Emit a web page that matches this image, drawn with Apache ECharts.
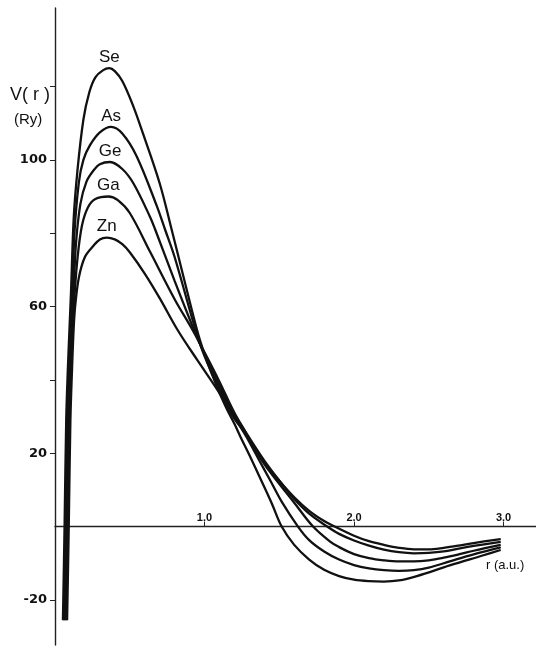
<!DOCTYPE html>
<html>
<head>
<meta charset="utf-8">
<script src="https://cdn.jsdelivr.net/npm/echarts@6/dist/echarts.min.js"></script>
<style>
  html, body { margin: 0; padding: 0; background: #fff; }
  #chart { width: 536px; height: 647px; }
</style>
</head>
<body>
<div id="chart"></div>
<script>
// r in a.u., V(r) in Ry
const rSe = [0.053,0.064,0.075,0.086,0.098,0.108,0.125,0.15,0.19,0.23,0.27,0.32,0.363,0.40,0.45,0.52,0.59,0.70,0.78,0.86,0.95,1.0,1.05,1.1,1.15,1.2,1.24,1.3,1.378,1.45,1.516,1.6,1.7,1.8,1.9,2.0,2.1,2.2,2.3,2.42,2.64,2.86,2.98]
const vSe = [-25.5,0,29,43,55,65,84,97,111,118.5,122.5,124.4,125,124.2,121.5,115,107,93.6,81,68,53.6,47,41.5,36.5,32,28,24.5,19.5,12.7,6.3,0,-5,-9,-11.8,-13.5,-14.5,-14.9,-15,-14.7,-13.5,-10.6,-7.9,-6.4]

const rAs = [0.060,0.071,0.082,0.093,0.105,0.115,0.13,0.16,0.19,0.234,0.30,0.375,0.45,0.546,0.68,0.736,0.80,0.94,1.0,1.1,1.2,1.28,1.36,1.438,1.52,1.625,1.7,1.8,1.9,2.0,2.1,2.2,2.3,2.4,2.5,2.64,2.8,2.98]
const vAs = [-25.5,0,29,43,55,63,80,94,100,104,107.5,109,107.2,101,87.5,81,73.5,53.6,46.5,37.5,30,24.5,18.5,12.7,6.5,0,-3.7,-6.8,-9,-10.5,-11.4,-11.9,-12.1,-11.9,-11.2,-9.5,-7.6,-5.7]

const rGe = [0.067,0.078,0.089,0.100,0.112,0.122,0.14,0.17,0.21,0.256,0.30,0.368,0.45,0.524,0.635,0.67,0.80,0.93,1.0,1.1,1.2,1.28,1.4,1.48,1.6,1.726,1.84,1.9,2.0,2.1,2.2,2.3,2.4,2.5,2.6,2.7,2.8,2.98]
const vGe = [-25.5,0,29,43,55,62,77,88,94,97,98.8,99.4,97.5,93.6,84.5,81,67,53.6,47,38.5,30.5,25,17,12.7,6.5,0,-4.1,-5.6,-7.5,-8.6,-9.2,-9.5,-9.5,-9.2,-8.5,-7.6,-6.6,-5.0]

const rGa = [0.074,0.085,0.096,0.107,0.119,0.129,0.15,0.18,0.22,0.27,0.357,0.42,0.50,0.635,0.80,0.92,1.0,1.1,1.2,1.28,1.4,1.52,1.6,1.7,1.82,1.9,2.0,2.1,2.2,2.3,2.4,2.5,2.6,2.7,2.8,2.98]
const vGa = [-25.5,0,29,43,55,62,73,82,87,89.3,90,89,85.5,75,62,53.6,47.5,39.5,31,25.5,18,11.5,7.5,3.5,0,-2,-3.8,-5.2,-6.3,-7,-7.3,-7.2,-6.8,-6.0,-5.3,-4.2]

const rZn = [0.081,0.092,0.103,0.114,0.126,0.137,0.16,0.20,0.256,0.30,0.346,0.40,0.45,0.50,0.60,0.70,0.82,0.95,1.10,1.19,1.28,1.4,1.5,1.6,1.7,1.8,1.87,2.0,2.1,2.2,2.3,2.4,2.5,2.6,2.7,2.8,2.98]
const vZn = [-25.5,0,29,43,55,61,68,73.5,76.5,78.3,78.8,78.3,77,74.8,69,62.3,53.6,45.5,36.4,30,25,17.5,12.5,8,4.3,1.5,0,-2.5,-4,-5,-5.8,-6.2,-6.2,-5.8,-5.2,-4.5,-3.4]

const elements = ['Se', 'As', 'Ge', 'Ga', 'Zn']
const radii = [rSe, rAs, rGe, rGa, rZn]
const potentials = [vSe, vAs, vGe, vGa, vZn]

const yTicks = [-20, 20, 40, 60, 80, 100, 120]
const yLabels = [-20, 20, 60, 100]
const xTicks = [1, 2, 3]

const yMin = -32.3, yMax = 141.4
const gridTop = 8, gridBottom = 2, chartHeight = 647
// lift the r axis from the grid bottom up to V = 0
const zeroLift = (0 - yMin) / (yMax - yMin) * (chartHeight - gridTop - gridBottom)

function makeSeries(name, rs, vs) {
  let peak = 0
  vs.forEach((v, i) => { if (v > vs[peak]) peak = i })
  const data = rs.map((r, i) => {
    if (i !== peak) return [r, vs[i]]
    return {
      value: [r, vs[i]],
      label: {
        show: true,
        position: 'top',
        distance: 2,
        formatter: name,
        color: '#111',
        fontSize: 17,
        fontFamily: 'Liberation Sans'
      }
    }
  })
  return {
    name: name,
    type: 'line',
    smooth: 0.35,
    symbol: 'circle',
    symbolSize: 1,
    itemStyle: { color: '#111' },
    lineStyle: { color: '#111', width: 2.3 },
    data: data
  }
}

const chart = echarts.init(document.getElementById('chart'))
chart.setOption({
  animation: false,
  backgroundColor: '#fff',
  grid: { left: 55, right: 0, top: gridTop, bottom: gridBottom },
  xAxis: {
    type: 'value',
    min: 0,
    max: 3.217,
    position: 'bottom',
    offset: -zeroLift,
    axisLine: { onZero: false, lineStyle: { color: '#222', width: 1.3 } },
    axisTick: { show: true, inside: true, length: 5, customValues: xTicks, lineStyle: { color: '#222' } },
    axisLabel: {
      inside: true,
      margin: 3,
      customValues: xTicks,
      formatter: v => v.toFixed(1),
      color: '#111',
      fontSize: 11,
      fontWeight: 'bold',
      fontFamily: 'Liberation Sans'
    },
    splitLine: { show: false }
  },
  yAxis: {
    type: 'value',
    min: yMin,
    max: yMax,
    axisLine: { show: true, onZero: false, lineStyle: { color: '#222', width: 1.4 } },
    axisTick: { show: true, length: 5, customValues: yTicks, lineStyle: { color: '#222' } },
    axisLabel: {
      margin: 8,
      customValues: yLabels,
      formatter: v => String(v),
      color: '#111',
      fontSize: 13,
      fontWeight: 'bold',
      fontFamily: 'DejaVu Sans'
    },
    splitLine: { show: false }
  },
  graphic: [
    { type: 'text', left: 10, top: 86, style: { text: 'V( r )', fontSize: 18, fontFamily: 'Liberation Sans', fill: '#111' } },
    { type: 'text', left: 14, top: 112, style: { text: '(Ry)', fontSize: 15, fontFamily: 'Liberation Sans', fill: '#111' } },
    { type: 'text', left: 486, top: 559, style: { text: 'r (a.u.)', fontSize: 13, fontFamily: 'Liberation Sans', fill: '#111' } }
  ],
  series: elements.map((el, i) => makeSeries(el, radii[i], potentials[i]))
})
</script>
</body>
</html>
